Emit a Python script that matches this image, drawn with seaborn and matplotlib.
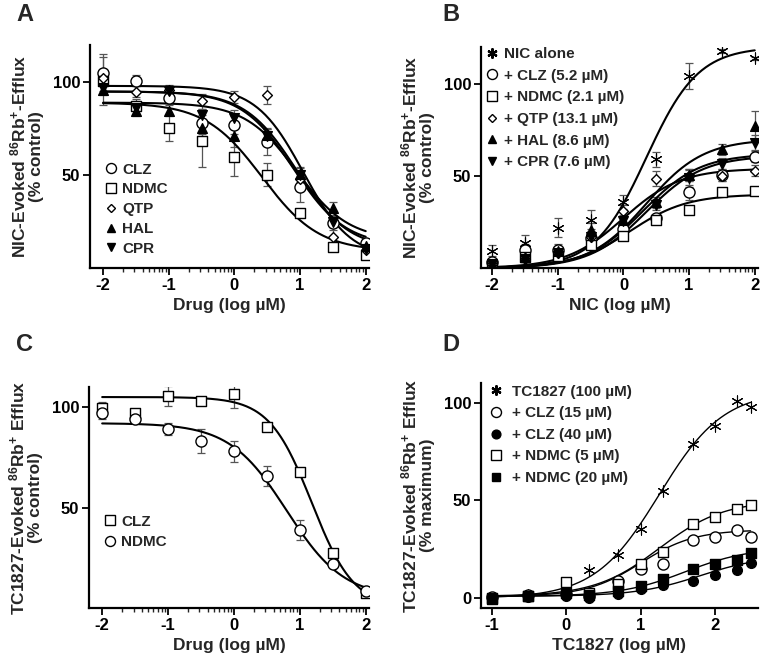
import numpy as np
import pandas as pd
import matplotlib
matplotlib.use("Agg")
import matplotlib.pyplot as plt
import seaborn as sns
from matplotlib.lines import Line2D

sns.set_theme(style="ticks")
plt.rcParams['font.family'] = ['Liberation Sans', 'DejaVu Sans']
plt.rcParams['font.weight'] = 'bold'
plt.rcParams['mathtext.fontset'] = 'custom'
plt.rcParams['mathtext.rm'] = 'Liberation Sans:bold'
plt.rcParams['mathtext.bf'] = 'Liberation Sans:bold'
plt.rcParams['mathtext.default'] = 'bf'

# ---------------- data ----------------
# Panel A : drug (log uM) inhibition of NIC-evoked efflux
a_x = [-2, -1.5, -1, -0.5, 0, 0.5, 1, 1.5, 2]
a_names = ["CLZ", "NDMC", "QTP", "HAL", "CPR"]
a_clz = [105, 100.7, 91.6, 78, 77, 67.6, 43.7, 24.4, 13.3]
a_ndmc = [100.5, 87, 75.5, 68.5, 59.7, 50.3, 29.4, 11.1, 7]
a_qtp = [102, 94.8, 95.7, 89.8, 92, 93, 48, 16.8, 9.7]
a_hal = [96, 84.6, 84.6, 75.4, 71, 71.5, 50.5, 32.4, 12]
a_cpr = [97, 86, 95, 82.3, 80.8, 71, 50, 25, 10]
a_clz_e = [10, 3, 3, 6, 5, 7, 8, 4, 2]
a_ndmc_e = [13, 4, 7, 14, 10, 6, 2, 2, 2]
a_qtp_e = [0, 3, 3, 4, 3, 5, 4, 5, 2]
a_hal_e = [3, 3, 3, 5, 6, 4, 4, 3, 2]
a_cpr_e = [3, 3, 3, 3, 4, 4, 4, 3, 2]
# fitted curve parameters (top, bottom, logIC50, hill)
a_fit_top = [95, 89, 98, 89, 95]
a_fit_bot = [12, 9, 5, 15, 10]
a_fit_ic50 = [0.9, 0.42, 1.05, 0.95, 0.95]
a_fit_hill = [1.1, 1.0, 1.2, 1.1, 1.1]

# Panel B : NIC concentration response
b_x = [-2, -1.5, -1, -0.5, 0, 0.5, 1, 1.5, 2]
b_labels = ["NIC alone", "+ CLZ (5.2 \u00b5M)", "+ NDMC (2.1 \u00b5M)",
            "+ QTP (13.1 \u00b5M)", "+ HAL (8.6 \u00b5M)", "+ CPR (7.6 \u00b5M)"]
b_nic = [9.3, 13.8, 21.9, 26.3, 35.8, 59, 104.3, 117.7, 113.8]
b_clz = [3, 9.8, 9.8, 16.5, 21.3, 27, 41, 50.5, 60.4]
b_ndmc = [1, 6, 6.6, 12.4, 17.4, 26.3, 31.4, 41.2, 42]
b_qtp = [2, 5, 8, 17, 31.2, 48.4, 50, 50, 52.8]
b_hal = [2, 6, 9, 20.4, 26, 35.8, 50.5, 64.5, 77]
b_cpr = [2, 5, 8, 17, 25.4, 34.4, 48.8, 56.5, 68]
b_nic_e = [3, 4, 5, 5, 4, 4, 7, 1, 1]
b_clz_e = [2, 3, 3, 3, 2, 2, 4, 3, 3]
b_ndmc_e = [1, 2, 2, 2, 2, 2, 2, 2, 2]
b_qtp_e = [1, 2, 2, 2, 3, 4, 3, 3, 3]
b_hal_e = [1, 2, 3, 4, 3, 3, 3, 3, 8]
b_cpr_e = [1, 2, 2, 3, 3, 3, 5, 3, 4]
b_fit_top = [120, 61, 40, 54, 70, 62]
b_fit_ec50 = [0.35, 0.35, 0.1, 0.0, 0.35, 0.3]
b_fit_hill = [1.1, 1.0, 1.0, 1.0, 1.0, 1.0]

# Panel C : drug inhibition of TC1827-evoked efflux
c_x = [-2, -1.5, -1, -0.5, 0, 0.5, 1, 1.5, 2]
c_names = ["CLZ", "NDMC"]
c_clz = [99.3, 97.2, 105.4, 102.8, 106.4, 90.3, 67.8, 27.6, 7.4]
c_ndmc = [96.9, 94, 89, 83.2, 77.9, 65.5, 38.6, 21.8, 8.6]
c_clz_e = [3, 2, 5, 1, 7, 1, 2, 1, 1]
c_ndmc_e = [3, 2, 3, 6, 5, 5, 5, 1, 1]
c_fit_top = [105, 92]
c_fit_bot = [0, 5]
c_fit_ic50 = [1.18, 0.8]
c_fit_hill = [1.35, 1.0]

# Panel D : TC1827 concentration response
d_x = [-1, -0.52, 0, 0.3, 0.7, 1.0, 1.3, 1.7, 2.0, 2.3, 2.48]
d_labels = ["TC1827 (100 \u00b5M)", "+ CLZ (15 \u00b5M)", "+ CLZ (40 \u00b5M)",
            "+ NDMC (5 \u00b5M)", "+ NDMC (20 \u00b5M)"]
d_tc = [0, 1.5, 6.6, 14.5, 22, 35.2, 54.6, 79, 88, 101, 97.8]
d_clz15 = [0.5, 1.5, 1.9, 1.2, 8.8, 15.1, 17.7, 29.8, 31.3, 34.7, 31.5]
d_clz40 = [0, 0.5, 0.9, 0.3, 2, 4.9, 6.6, 8.8, 11.7, 14.3, 18.2]
d_ndmc5 = [-0.5, 1, 8.5, 2.9, 7.1, 17.3, 23.6, 38.1, 41.5, 45.4, 47.6]
d_ndmc20 = [0, 1, 2.6, 1.7, 3.7, 6.3, 9.7, 14.8, 17.3, 19.6, 23]
d_fit_top = [106, 35, 22, 50, 26]
d_fit_bot = [0, 1, 1, 1, 1]
d_fit_ec50 = [1.25, 1.0, 1.8, 1.25, 1.6]
d_fit_hill = [1.0, 1.2, 1.0, 1.0, 1.0]


def sigmoid(x, top, bot, mid, hill, increasing):
    s = 1.0 if increasing else -1.0
    return bot + (top - bot) / (1 + 10 ** (s * (mid - x) * hill))


ASTER = (6, 2, 0)
TICK_FS = 12
LAB_FS = 12.5
LEG_FS = 11

fig = plt.figure(figsize=(7.69, 6.64), dpi=100)
W, H = 769, 664


def make_ax(l, r, t, b):
    return fig.add_axes([l / W, 1 - b / H, (r - l) / W, (b - t) / H])


axA = make_ax(90, 369, 45, 268)
axB = make_ax(481, 758, 47, 268)
axC = make_ax(89, 369, 387, 608)
axD = make_ax(481, 758, 383, 608)


def style(ax, xlim, ylim, yticks, xmaj, xminor):
    ax.set_xlim(*xlim)
    ax.set_ylim(*ylim)
    ax.set_yticks(yticks)
    ax.set_xticks(xmaj)
    ax.set_xticks(xminor, minor=True)
    ax.set_xticklabels([str(int(v)) for v in xmaj])
    ax.set_yticklabels([str(int(v)) for v in yticks])
    for s in ["top", "right"]:
        ax.spines[s].set_visible(False)
    for s in ["left", "bottom"]:
        ax.spines[s].set_linewidth(1.6)
        ax.spines[s].set_color("black")
    ax.tick_params(axis="both", which="major", direction="out", length=5, width=1.3,
                   labelsize=TICK_FS, pad=2, colors="black")
    ax.tick_params(axis="x", which="minor", direction="out", length=3, width=1.0)
    for lab in ax.get_xticklabels() + ax.get_yticklabels():
        lab.set_fontweight("bold")


def minor_ticks(lo, hi):
    out = []
    for n in range(lo, hi):
        for k in range(2, 10):
            out.append(n + np.log10(k))
    return out


def draw_series(ax, x, y, e, marker, fc, ms, mew=1.0):
    df = pd.DataFrame({"x": x, "y": y})
    if e is not None:
        ax.errorbar(x, y, yerr=e, fmt="none", ecolor="#555555", elinewidth=0.9,
                    capsize=3, capthick=0.9, zorder=2)
    sns.scatterplot(data=df, x="x", y="y", ax=ax, marker=marker, s=ms ** 2,
                    facecolor=fc, edgecolor="black", linewidth=mew, zorder=4,
                    legend=False)


def draw_curve(ax, xs, ys, lw):
    df = pd.DataFrame({"x": xs, "y": ys})
    sns.lineplot(data=df, x="x", y="y", ax=ax, color="black", lw=lw, zorder=3,
                 legend=False)


def legend(ax, handles, labels, loc, anchor, pad=0.35, spacing=0.42):
    ax.legend(handles, labels, loc=loc, bbox_to_anchor=anchor, frameon=False,
              prop={"weight": "bold", "size": LEG_FS}, handlelength=0.9,
              handletextpad=pad, labelspacing=spacing, borderpad=0, borderaxespad=0)


# ---------------- Panel A ----------------
xs = np.linspace(-2, 2, 200)
a_data = [a_clz, a_ndmc, a_qtp, a_hal, a_cpr]
a_err = [a_clz_e, a_ndmc_e, a_qtp_e, a_hal_e, a_cpr_e]
a_mk = [("o", "white", 8), ("s", "white", 7.5), ("D", "white", 5), ("^", "black", 7), ("v", "black", 7)]
for i in range(5):
    draw_curve(axA, xs, sigmoid(xs, a_fit_top[i], a_fit_bot[i], a_fit_ic50[i], a_fit_hill[i], False), 1.5)
for i in range(5):
    m, fc, ms = a_mk[i]
    draw_series(axA, a_x, a_data[i], a_err[i], m, fc, ms)
style(axA, (-2.2, 2.05), (0, 120), [50, 100], [-2, -1, 0, 1, 2], minor_ticks(-2, 2))
hA = [Line2D([], [], ls="none", marker=m, mfc=fc, mec="black", ms=ms * 0.9) for m, fc, ms in a_mk]
legend(axA, hA, a_names, "lower left", (0.05, 0.055), pad=0.3, spacing=0.38)

# ---------------- Panel B ----------------
b_data = [b_nic, b_clz, b_ndmc, b_qtp, b_hal, b_cpr]
b_err = [b_nic_e, b_clz_e, b_ndmc_e, b_qtp_e, b_hal_e, b_cpr_e]
b_mk = [(ASTER, "black", 8), ("o", "white", 8), ("s", "white", 7.5), ("D", "white", 5),
        ("^", "black", 7), ("v", "black", 7)]
for i in range(6):
    draw_curve(axB, xs, sigmoid(xs, b_fit_top[i], 0, b_fit_ec50[i], b_fit_hill[i], True), 1.5)
for i in range(6):
    m, fc, ms = b_mk[i]
    draw_series(axB, b_x, b_data[i], b_err[i], m, fc, ms, mew=0.8 if i == 0 else 1.0)
style(axB, (-2.17, 2.05), (0, 120), [50, 100], [-2, -1, 0, 1, 2], minor_ticks(-2, 2))
hB = [Line2D([], [], ls="none", marker=m, mfc=fc, mec="black", ms=ms * 0.9,
             mew=1.6 if m == ASTER else 1.0) for m, fc, ms in b_mk]
legend(axB, hB, b_labels, "upper left", (0.015, 1.0), pad=0.35, spacing=0.5)

# ---------------- Panel C ----------------
c_data = [c_clz, c_ndmc]
c_err = [c_clz_e, c_ndmc_e]
c_mk = [("s", "white", 7.5), ("o", "white", 8)]
for i in range(2):
    draw_curve(axC, xs, sigmoid(xs, c_fit_top[i], c_fit_bot[i], c_fit_ic50[i], c_fit_hill[i], False), 1.5)
for i in range(2):
    m, fc, ms = c_mk[i]
    draw_series(axC, c_x, c_data[i], c_err[i], m, fc, ms)
style(axC, (-2.2, 2.05), (0, 110), [50, 100], [-2, -1, 0, 1, 2], minor_ticks(-2, 2))
hC = [Line2D([], [], ls="none", marker=m, mfc=fc, mec="black", ms=ms * 0.9) for m, fc, ms in c_mk]
legend(axC, hC, c_names, "lower left", (0.05, 0.265), pad=0.3, spacing=0.45)

# ---------------- Panel D ----------------
xd = np.linspace(-1, 2.48, 200)
d_data = [d_tc, d_clz15, d_clz40, d_ndmc5, d_ndmc20]
d_mk = [(ASTER, "black", 8), ("o", "white", 8), ("o", "black", 7), ("s", "white", 7.5), ("s", "black", 7)]
for i in range(5):
    draw_curve(axD, xd, sigmoid(xd, d_fit_top[i], d_fit_bot[i], d_fit_ec50[i], d_fit_hill[i], True), 1.0)
for i in range(5):
    m, fc, ms = d_mk[i]
    draw_series(axD, d_x, d_data[i], None, m, fc, ms, mew=0.8 if i == 0 else 1.0)
style(axD, (-1.15, 2.58), (-5, 110), [0, 50, 100], [-1, 0, 1, 2], [])
hD = [Line2D([], [], ls="none", marker=m, mfc=fc, mec="black", ms=ms * 0.9,
             mew=1.6 if m == ASTER else 1.0) for m, fc, ms in d_mk]
legend(axD, hD, d_labels, "upper left", (0.03, 0.993), pad=0.6, spacing=0.5)

# ---------------- labels ----------------
lab_kw = dict(fontsize=LAB_FS, fontweight="bold")
axA.set_xlabel("Drug (log \u00b5M)", labelpad=4, **lab_kw)
axB.set_xlabel("NIC (log \u00b5M)", labelpad=4, **lab_kw)
axC.set_xlabel("Drug (log \u00b5M)", labelpad=4, **lab_kw)
axD.set_xlabel("TC1827 (log \u00b5M)", labelpad=4, **lab_kw)
axA.set_ylabel("NIC-Evoked $^{86}$Rb$^{+}$-Efflux\n(% control)", labelpad=6, linespacing=1.05, **lab_kw)
axB.set_ylabel("NIC-Evoked $^{86}$Rb$^{+}$-Efflux\n(% control)", labelpad=6, linespacing=1.05, **lab_kw)
axC.set_ylabel("TC1827-Evoked $^{86}$Rb$^{+}$ Efflux\n(% control)", labelpad=6, linespacing=1.05, **lab_kw)
axD.set_ylabel("TC1827-Evoked $^{86}$Rb$^{+}$ Efflux\n(% maximum)", labelpad=6, linespacing=1.05, **lab_kw)

for txt, x, y in [("A", 16, 3), ("B", 442, 3), ("C", 16, 333), ("D", 442, 333)]:
    fig.text(x / W, 1 - y / H, txt, fontsize=17, fontweight="bold", va="top", ha="left")

fig.savefig("out.png", dpi=100)
